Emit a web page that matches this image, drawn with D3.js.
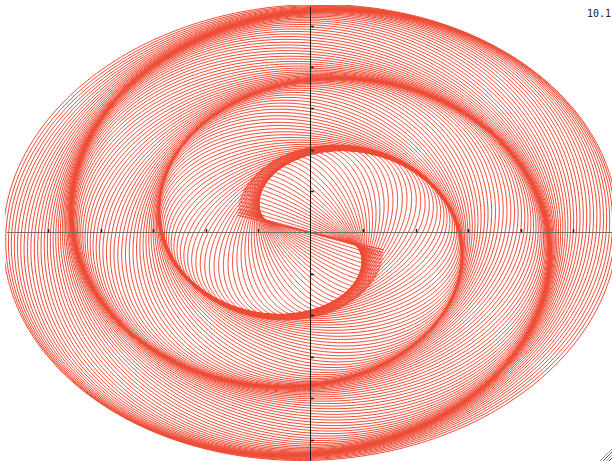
<!DOCTYPE html>
<html>
<head>
<meta charset="utf-8">
<script src="https://cdn.jsdelivr.net/npm/d3@7"></script>
<style>
  html, body { margin: 0; padding: 0; background: #fff; }
  svg { display: block; }
</style>
</head>
<body>
<svg id="chart" width="612" height="461"></svg>
<script>
// Plot window (data units) and axis ticks
const xDomain = [-6, 6];
const yDomain = [-6, 6];
const xTicks = [-5, -4, -3, -2, -1, 1, 2, 3, 4, 5];
const yTicks = [-5, -4, -3, -2, -1, 1, 2, 3, 4, 5];
const timeLabel = "10.1";

// Nested ovals. Each has a mean radius r; its semi-axes are r + h and r - h,
// where h is large for the narrow inner ovals and tapers off outward.
// The orientation winds slowly near the centre, steadily further out.
const ringCount = 136;
const ringInner = 0.7;
const ringOuter = 5.68;
const ovalHalfDiffOuter = 0.19;
const ovalHalfDiffTaper = 0.03;
const ovalHalfDiffCore = 0.9;
const ovalCoreScale = 0.9;
const twistStartDeg = 104.3;
const twistPerUnitDeg = -110;
const twistCore = 0.85;

const W = 612, H = 461;
const cx = 310.5, cy = 232.5;
const unitX = 52.5, unitY = 41.4;

const svg = d3.select("#chart");

const x = d3.scaleLinear().domain(xDomain).range([cx + xDomain[0] * unitX, cx + xDomain[1] * unitX]);
const y = d3.scaleLinear().domain(yDomain).range([cy - yDomain[0] * unitY, cy - yDomain[1] * unitY]);

svg.append("defs").append("clipPath").attr("id", "plotClip")
  .append("rect").attr("x", 5).attr("y", 5).attr("width", W - 5).attr("height", H - 5);

const rings = d3.range(ringCount).map(i => {
  const r = ringInner + (ringOuter - ringInner) * i / (ringCount - 1);
  const h = ovalHalfDiffOuter + ovalHalfDiffTaper * (ringOuter - r)
          + ovalHalfDiffCore * Math.exp(-r / ovalCoreScale);
  const a = r + h;
  const b = Math.max(r - h, 0.01);
  const th = (twistStartDeg + twistPerUnitDeg * Math.hypot(r, twistCore)) * Math.PI / 180;
  return { a, b, th };
});

const steps = d3.range(0, 360, 1.2).map(d => d * Math.PI / 180);
const line = d3.line().curve(d3.curveLinearClosed);

svg.append("g").attr("clip-path", "url(#plotClip)")
  .selectAll("path").data(rings).join("path")
  .attr("d", ring => line(steps.map(t => {
    const u = ring.a * Math.cos(t), v = ring.b * Math.sin(t);
    const X = u * Math.cos(ring.th) - v * Math.sin(ring.th);
    const Y = u * Math.sin(ring.th) + v * Math.cos(ring.th);
    return [x(X), y(Y)];
  })))
  .attr("fill", "none")
  .attr("stroke", "#ef4a34")
  .attr("stroke-width", 1);

// Axes through the origin
const axes = svg.append("g");
axes.append("line")
  .attr("x1", 7).attr("x2", W).attr("y1", y(0)).attr("y2", y(0))
  .attr("stroke", "#6e6e6e").attr("stroke-width", 1);
axes.append("line")
  .attr("x1", x(0)).attr("x2", x(0)).attr("y1", 7).attr("y2", H)
  .attr("stroke", "#1a1a1a").attr("stroke-width", 1);

axes.selectAll(".xt").data(xTicks).join("line")
  .attr("x1", d => Math.round(x(d)) + 0.5).attr("x2", d => Math.round(x(d)) + 0.5)
  .attr("y1", y(0) - 3.5).attr("y2", y(0))
  .attr("stroke", "#222").attr("stroke-width", 1.5);
axes.selectAll(".yt").data(yTicks).join("line")
  .attr("x1", x(0)).attr("x2", x(0) + 3.5)
  .attr("y1", d => Math.round(y(d)) + 0.5).attr("y2", d => Math.round(y(d)) + 0.5)
  .attr("stroke", "#222").attr("stroke-width", 1.5);

// Elapsed-time readout
svg.append("text")
  .attr("x", 587).attr("y", 17)
  .attr("font-family", "DejaVu Sans Mono, monospace")
  .attr("font-size", 10)
  .attr("fill", "#222")
  .text(timeLabel);

// Window size grip
const grip = svg.append("g");
[3, 6, 9, 12].forEach((o, i) => {
  grip.append("line")
    .attr("x1", W - o).attr("y1", H)
    .attr("x2", W).attr("y2", H - o)
    .attr("stroke", i % 2 ? "#9a9a9a" : "#555")
    .attr("stroke-width", 1);
});
</script>
</body>
</html>
